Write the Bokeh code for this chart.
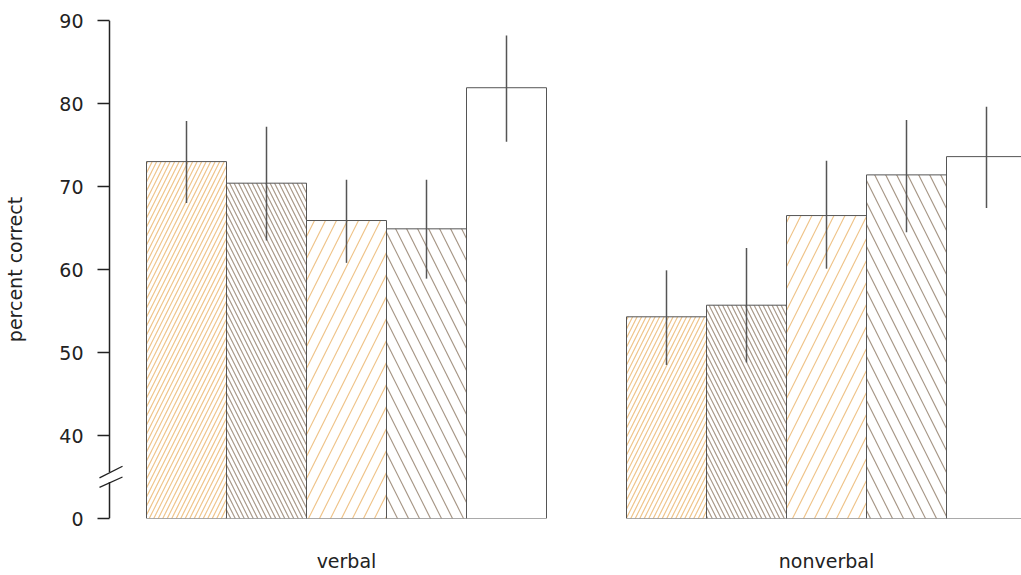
from bokeh.plotting import figure
from bokeh.models import Range1d, FixedTicker, ColumnDataSource
from bokeh.embed import file_html
from bokeh.resources import INLINE

# ---- data ----
groups = ["verbal", "nonverbal"]
series_names = ["s1", "s2", "s3", "s4", "s5"]
mean_s1 = [73.0, 54.3]
mean_s2 = [70.4, 55.7]
mean_s3 = [65.9, 66.5]
mean_s4 = [64.9, 71.4]
mean_s5 = [81.9, 73.6]
upper_s1 = [77.9, 59.9]
upper_s2 = [77.2, 62.6]
upper_s3 = [70.8, 73.1]
upper_s4 = [70.8, 78.0]
upper_s5 = [88.2, 79.6]
lower_s1 = [68.0, 48.5]
lower_s2 = [63.5, 48.8]
lower_s3 = [60.8, 60.1]
lower_s4 = [58.9, 64.5]
lower_s5 = [75.4, 67.4]
y_tick_values = [30, 40, 50, 60, 70, 80, 90]
y_tick_labels = ["0", "40", "50", "60", "70", "80", "90"]
axis_floor = 30          # value drawn as "0" below the axis break
axis_top = 90
break_low, break_high = 34.4, 35.6

means = [mean_s1, mean_s2, mean_s3, mean_s4, mean_s5]
uppers = [upper_s1, upper_s2, upper_s3, upper_s4, upper_s5]
lowers = [lower_s1, lower_s2, lower_s3, lower_s4, lower_s5]

# ---- styles ----
orange = "#efc48a"
taupe = "#a89888"
styles = [
    dict(hatch_pattern="/", hatch_color=orange, hatch_scale=9),
    dict(hatch_pattern="\\", hatch_color=taupe, hatch_scale=9),
    dict(hatch_pattern="/", hatch_color=orange, hatch_scale=22),
    dict(hatch_pattern="\\", hatch_color=taupe, hatch_scale=22),
    dict(hatch_pattern=" ", hatch_color=None, hatch_scale=22),
]
edge = "#555555"
font = "DejaVu Sans"
txt = "#222222"

px = 80.0                      # pixels per bar width
x0 = 0.5 - 49 / px             # frame starts 12px left of the axis line
axis_x = x0 + 12 / px
p = figure(width=1021, height=574, output_backend="svg", toolbar_location=None,
           x_range=Range1d(x0, x0 + 924 / px), y_range=Range1d(axis_floor, axis_top),
           min_border_left=97, min_border_right=0, min_border_top=20,
           min_border_bottom=55)
p.outline_line_color = None
p.grid.visible = False
p.background_fill_color = "white"

n = len(series_names)
group_start = [1 + g * (n + 1) for g in range(len(groups))]
for i in range(n):
    xs = [gs + i for gs in group_start]
    src = ColumnDataSource(dict(x=xs, top=means[i]))
    p.vbar(x="x", top="top", bottom=axis_floor - 1, width=1.0, source=src,
           fill_color="white", line_color=edge, line_width=1,
           hatch_weight=1.2, **styles[i])
for i in range(n):
    xs = [gs + i for gs in group_start]
    src = ColumnDataSource(dict(x=xs, up=uppers[i], lo=lowers[i]))
    p.segment(x0="x", y0="lo", x1="x", y1="up", source=src,
              line_color=edge, line_width=1.5)

# y axis (ticks point inward from the frame edge up to the drawn axis line)
ya = p.yaxis[0]
ya.ticker = FixedTicker(ticks=y_tick_values)
ya.major_label_overrides = {v: l for v, l in zip(y_tick_values, y_tick_labels)}
ya.axis_line_color = None
ya.major_tick_line_color = txt
ya.major_tick_line_width = 1.5
ya.major_tick_out = 0
ya.major_tick_in = 12
ya.minor_tick_line_color = None
ya.major_label_standoff = 14
ya.major_label_text_font = font
ya.major_label_text_font_size = "19px"
ya.major_label_text_color = txt
ya.axis_label = "percent correct"
ya.axis_label_text_font = font
ya.axis_label_text_font_size = "19px"
ya.axis_label_text_font_style = "normal"
ya.axis_label_text_color = txt
ya.axis_label_standoff = 30

# broken axis line + break slashes
p.segment(x0=[axis_x, axis_x], y0=[axis_floor, break_high],
          x1=[axis_x, axis_x], y1=[break_low, axis_top],
          line_color=txt, line_width=1.5)
p.segment(x0=[axis_x - 10 / px, axis_x - 10 / px],
          y0=[break_high - 0.7, break_low - 0.65],
          x1=[axis_x + 13 / px, axis_x + 13 / px],
          y1=[break_high + 0.7, break_low + 0.6],
          line_color=txt, line_width=1.3)

# x axis: group names
xa = p.xaxis[0]
xa.ticker = FixedTicker(ticks=[gs + (n - 1) / 2 for gs in group_start])
xa.major_label_overrides = {gs + (n - 1) / 2: g for gs, g in zip(group_start, groups)}
xa.axis_line_color = None
xa.major_tick_line_color = None
xa.major_tick_out = 0
xa.major_tick_in = 0
xa.minor_tick_line_color = None
xa.major_label_standoff = 31
xa.major_label_text_font = font
xa.major_label_text_font_size = "19px"
xa.major_label_text_color = txt

open("out.html", "w").write(file_html(p, INLINE))
